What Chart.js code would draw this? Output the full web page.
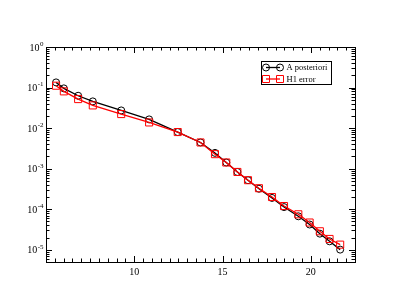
<!DOCTYPE html>
<html>
<head>
<meta charset="utf-8">
<script src="https://cdn.jsdelivr.net/npm/chart.js@4/dist/chart.umd.min.js"></script>
<style>
  body { margin: 0; background: #fff; }
  canvas { display: block; }
</style>
</head>
<body>
<canvas id="canvas" width="399" height="308"></canvas>
<script>
// data
var xValues = [5.57, 6.01, 6.82, 7.65, 9.26, 10.84, 12.46, 13.75, 14.57, 15.21,
               15.84, 16.44, 17.06, 17.80, 18.48, 19.29, 19.93, 20.51, 21.06, 21.66];
var aPosteriori = [0.134, 0.0955, 0.0628, 0.0456, 0.0273, 0.0164, 0.0080, 0.00443, 0.00245, 0.00142,
                   8.3e-4, 5.2e-4, 3.2e-4, 1.9e-4, 1.13e-4, 6.7e-5, 4.2e-5, 2.5e-5, 1.62e-5, 1.01e-5];
var h1Error = [0.111, 0.0806, 0.052, 0.0363, 0.0222, 0.0138, 0.0080, 0.00443, 0.00228, 0.00142,
               8.3e-4, 5.2e-4, 3.3e-4, 2.0e-4, 1.2e-4, 7.5e-5, 4.7e-5, 2.86e-5, 1.85e-5, 1.34e-5];
var seriesLabels = ["A posteriori", "H1 error"];
var xTickLabels = [10, 15, 20];
var yDecades = [0, -1, -2, -3, -4, -5];

var xMin = 5, xMax = 22.5, yMin = 5e-6, yMax = 1;
var serif = '"Liberation Serif", "Times New Roman", serif';

function toPoints(ys) {
  return xValues.map(function (x, i) { return { x: x, y: ys[i] }; });
}

// grace-like frame: ticks inward on all four sides, 10^n labels, boxed legend
var frameTicks = {
  id: "frameTicks",
  afterDraw: function (chart) {
    var ctx = chart.ctx, a = chart.chartArea;
    var x = chart.scales.x, y = chart.scales.y;
    ctx.save();
    ctx.strokeStyle = "#000";
    ctx.lineWidth = 1;
    ctx.strokeRect(a.left + 0.5, a.top + 0.5, a.right - a.left, a.bottom - a.top);

    ctx.beginPath();
    for (var v = xMin; v <= xMax + 1e-9; v += 0.5) {
      var px = Math.round(x.getPixelForValue(v)) + 0.5;
      var len = (v % 5 === 0) ? 6 : 3.5;
      ctx.moveTo(px, a.bottom); ctx.lineTo(px, a.bottom - len);
      ctx.moveTo(px, a.top); ctx.lineTo(px, a.top + len);
    }
    for (var d = -6; d <= 0; d++) {
      for (var k = 1; k <= 9; k++) {
        var val = k * Math.pow(10, d);
        if (val < yMin * 0.999 || val > yMax * 1.001) continue;
        var py = Math.round(y.getPixelForValue(val)) + 0.5;
        var l = (k === 1) ? 6 : 3.5;
        ctx.moveTo(a.left, py); ctx.lineTo(a.left + l, py);
        ctx.moveTo(a.right, py); ctx.lineTo(a.right - l, py);
      }
    }
    ctx.stroke();

    // y labels with superscript exponent
    ctx.fillStyle = "#000";
    ctx.textBaseline = "middle";
    ctx.textAlign = "left";
    yDecades.forEach(function (d) {
      var py = y.getPixelForValue(Math.pow(10, d));
      var exp = d === 0 ? "0" : "-" + (-d);
      ctx.font = "10px " + serif;
      var bw = ctx.measureText("10").width;
      ctx.font = "7px " + serif;
      var ew = ctx.measureText(exp).width;
      var bx = 43 - ew - bw;
      ctx.font = "10px " + serif;
      ctx.fillText("10", bx, py + 1);
      ctx.font = "7px " + serif;
      ctx.fillText(exp, bx + bw + 0.5, py - 3);
    });

    // legend box
    var lx = 261.5, ly = 61.5, lw = 70, lh = 23;
    ctx.strokeStyle = "#000";
    ctx.strokeRect(lx, ly, lw, lh);
    var rows = [67.5, 79];
    chart.data.datasets.forEach(function (ds, i) {
      var ry = rows[i];
      ctx.strokeStyle = ds.borderColor;
      ctx.lineWidth = 1.3;
      ctx.beginPath();
      ctx.moveTo(266, ry); ctx.lineTo(280, ry);
      ctx.stroke();
      ctx.lineWidth = 1;
      [266, 280].forEach(function (mx) {
        ctx.beginPath();
        if (ds.pointStyle === "rect") {
          ctx.rect(mx - 3.5, ry - 3.5, 7, 7);
        } else {
          ctx.arc(mx, ry, 3.5, 0, Math.PI * 2);
        }
        ctx.stroke();
      });
      ctx.fillStyle = "#000";
      ctx.font = "8.5px " + serif;
      ctx.fillText(ds.label, 286.5, ry + 0.5);
    });
    ctx.restore();
  }
};

var ctx = document.getElementById("canvas").getContext("2d");
var myChart = new Chart(ctx, {
  type: "line",
  data: {
    datasets: [
      {
        label: seriesLabels[0],
        data: toPoints(aPosteriori),
        borderColor: "#000000",
        borderWidth: 1.3,
        pointStyle: "circle",
        pointRadius: 3.5,
        pointBorderWidth: 1,
        pointBorderColor: "#000000",
        pointBackgroundColor: "rgba(0,0,0,0)",
        tension: 0,
        order: 2,
      },
      {
        label: seriesLabels[1],
        data: toPoints(h1Error),
        borderColor: "#ff0000",
        borderWidth: 1.3,
        pointStyle: "rect",
        pointRadius: 5,
        pointBorderWidth: 1,
        pointBorderColor: "#ff0000",
        pointBackgroundColor: "rgba(0,0,0,0)",
        tension: 0,
        order: 1,
      },
    ],
  },
  options: {
    responsive: false,
    animation: false,
    layout: {
      padding: { top: 47, right: 44, left: 0, bottom: 0 },
    },
    plugins: {
      legend: { display: false },
      tooltip: { enabled: false },
    },
    scales: {
      x: {
        type: "linear",
        min: xMin,
        max: xMax,
        grid: { display: false, drawTicks: false },
        border: { display: false },
        afterBuildTicks: function (scale) {
          scale.ticks = xTickLabels.map(function (v) { return { value: v }; });
        },
        afterFit: function (scale) { scale.height = 46; },
        ticks: {
          color: "#000",
          padding: 4,
          maxRotation: 0,
          font: { family: serif, size: 10 },
        },
      },
      y: {
        type: "logarithmic",
        min: yMin,
        max: yMax,
        grid: { display: false, drawTicks: false },
        border: { display: false },
        afterFit: function (scale) { scale.width = 46; },
        ticks: { display: false },
      },
    },
  },
  plugins: [frameTicks],
});
</script>
</body>
</html>
